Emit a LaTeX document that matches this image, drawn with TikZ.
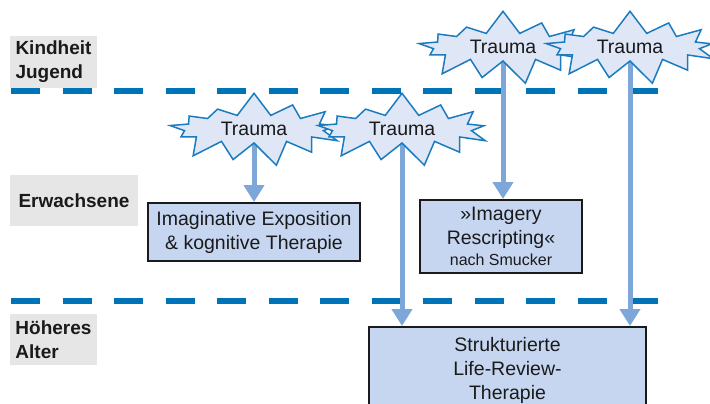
\documentclass[tikz,border=0pt]{standalone}
\usepackage{fontspec}
\setmainfont{Liberation Sans}
\usetikzlibrary{shapes.symbols,arrows.meta,backgrounds}

\definecolor{starline}{RGB}{27,123,191}
\definecolor{starfill}{RGB}{223,231,247}
\definecolor{boxfill}{RGB}{198,214,241}
\definecolor{flowcol}{RGB}{125,167,217}
\definecolor{sepcol}{RGB}{0,114,184}
\definecolor{phasegray}{RGB}{230,230,230}
\definecolor{ink}{RGB}{26,26,26}

\tikzset{
  trauma/.style={starburst, starburst points=13, starburst point height=24pt,
    random starburst=7, draw=starline, fill=starfill, line width=1.5pt,
    minimum width=188pt, minimum height=76pt, inner sep=1pt, text=ink,
    font=\fontsize{19.5}{24}\selectfont},
  therapy/.style={draw=ink, fill=boxfill, line width=2pt, align=center,
    text=ink, inner sep=0pt, font=\fontsize{19.5}{24}\selectfont},
  phase/.style={fill=phasegray, align=left, text=ink, inner sep=0pt,
    font=\bfseries\fontsize{19}{24}\selectfont},
  flow/.style={line width=5pt, flowcol, -{Triangle[width=20pt,length=17pt]}},
  agesep/.style={line width=6pt, sepcol, dash pattern=on 29pt off 22.5pt}
}

\begin{document}
\begin{tikzpicture}[x=1pt, y=-1pt]
    \useasboundingbox (0,0) rectangle (710,404);

    % Lebensphasen
    \node[phase, minimum width=87pt, minimum height=52pt] (kind) at (53.5,62) {Kindheit\\Jugend};
    \node[phase, minimum width=128pt, minimum height=51pt] (erw) at (74,200.5) {Erwachsene};
    \node[phase, minimum width=87pt, minimum height=51pt] (alter) at (53.5,339.5) {Höheres\\Alter};

    % Therapien
    \node[therapy, minimum width=212pt, minimum height=58pt] (imag) at (254,232) {Imaginative Exposition\\\& kognitive Therapie};
    \node[therapy, minimum width=162pt, minimum height=73pt] (resc) at (501,236.5) {»Imagery\\Rescripting«\\[-3pt]{\fontsize{16}{18}\selectfont nach Smucker}};
    \node[therapy, minimum width=277pt, minimum height=86pt, anchor=north] (life) at (507.5,326) {Strukturierte\\Life-Review-\\Therapie};

    % Traumata
    \node[trauma] (t1) at (254,129) {Trauma};
    \node[trauma] (t2) at (402,129) {Trauma};
    \node[trauma] (t3) at (503,47) {Trauma};
    \node[trauma] (t4) at (630,47) {Trauma};

    \begin{pgfonlayer}{background}
        % Grenzen
        \draw[agesep] (11,91) -- (660,91);
        \draw[agesep] (11,301) -- (660,301);
        % Pfeile
        \draw[flow] (t1.center) -- (t1.center |- imag.north);
        \draw[flow] (t2.center) -- (t2.center |- life.north);
        \draw[flow] (t3.center) -- (t3.center |- resc.north);
        \draw[flow] (t4.center) -- (t4.center |- life.north);
    \end{pgfonlayer}
\end{tikzpicture}
\end{document}
